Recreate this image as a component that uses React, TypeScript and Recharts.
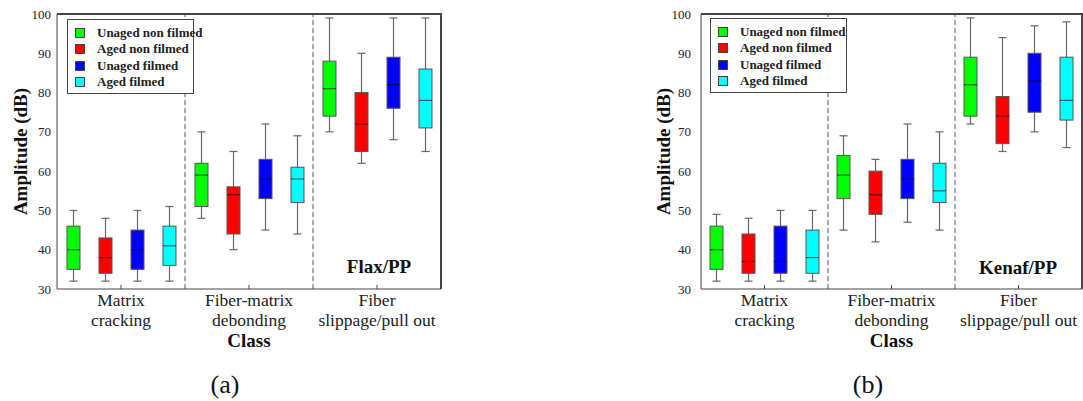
import React from 'react';
import {
    ComposedChart,
    Bar,
    XAxis,
    YAxis,
    ReferenceLine,
    Legend,
} from 'recharts';

// class labels, split the way they are printed under the axis
const CLASS_LINES = [
    ['Matrix', 'cracking'],
    ['Fiber-matrix', 'debonding'],
    ['Fiber', 'slippage/pull out'],
];

const SERIES_NAMES = ['Unaged non filmed', 'Aged non filmed', 'Unaged filmed', 'Aged filmed'];
const SERIES_COLORS = ['#00ff00', '#ff0000', '#0000ff', '#00ffff'];

const Y_MIN = 30;
const Y_MAX = 100;
const Y_TICKS = [30, 40, 50, 60, 70, 80, 90, 100];

// [min, q1, median, q3, max] per class
const flaxUnagedNonFilmed = [[32, 35, 40, 46, 50], [48, 51, 59, 62, 70], [70, 74, 81, 88, 99]];
const flaxAgedNonFilmed = [[32, 34, 38, 43, 48], [40, 44, 54, 56, 65], [62, 65, 72, 80, 90]];
const flaxUnagedFilmed = [[32, 35, 40, 45, 50], [45, 53, 58, 63, 72], [68, 76, 82, 89, 99]];
const flaxAgedFilmed = [[32, 36, 41, 46, 51], [44, 52, 58, 61, 69], [65, 71, 78, 86, 99]];

const kenafUnagedNonFilmed = [[32, 35, 40, 46, 49], [45, 53, 59, 64, 69], [72, 74, 82, 89, 99]];
const kenafAgedNonFilmed = [[32, 34, 37, 44, 48], [42, 49, 54, 60, 63], [65, 67, 74, 79, 94]];
const kenafUnagedFilmed = [[32, 34, 37, 46, 50], [47, 53, 58, 63, 72], [70, 75, 83, 90, 97]];
const kenafAgedFilmed = [[32, 34, 38, 45, 50], [45, 52, 55, 62, 70], [66, 73, 78, 89, 98]];

const SERIF = "'Liberation Serif', 'Times New Roman', serif";
const AXIS = '#444';
const PLOT_TOP = 14;
const PLOT_BOTTOM = 289;
const Y_AXIS_W = 57;

function buildRows(series: number[][][]) {
    return CLASS_LINES.map((lines, i) => {
        const row: any = { name: lines.join(' '), slot: i + 0.5 };
        series.forEach((s, k) => {
            row[`s${k}`] = s[i];
        });
        return row;
    });
}

// whiskers + box + median, placed inside the min..max range the bar gets from the y scale
function BoxShape(props: any) {
    const { x, y, width, height, fill, payload, statKey } = props;
    const [mn, q1, md, q3, mx] = payload[statKey];
    const top = Math.min(y, y + height);
    const bot = Math.max(y, y + height);
    const py = (v: number) => bot - ((bot - top) * (v - mn)) / (mx - mn);
    const cx = x + width / 2;
    return (
        <g>
            <line x1={cx} x2={cx} y1={py(mx)} y2={py(mn)} stroke="#666" strokeWidth={1.2} />
            <line x1={cx - 4} x2={cx + 4} y1={py(mx)} y2={py(mx)} stroke="#666" strokeWidth={1.2} />
            <line x1={cx - 4} x2={cx + 4} y1={py(mn)} y2={py(mn)} stroke="#666" strokeWidth={1.2} />
            <rect x={x} y={py(q3)} width={width} height={py(q1) - py(q3)} fill={fill} stroke="#555" strokeWidth={1} />
            <line x1={x} x2={x + width} y1={py(md)} y2={py(md)} stroke="rgba(0,0,0,0.6)" strokeWidth={1.2} />
        </g>
    );
}

function ClassTick(props: any) {
    const { x, y, payload } = props;
    const lines = CLASS_LINES[payload.index] || [String(payload.value)];
    return (
        <g>
            <line x1={x} x2={x} y1={PLOT_BOTTOM} y2={PLOT_BOTTOM - 4} stroke={AXIS} />
            <text x={x} y={y} textAnchor="middle" fontFamily={SERIF} fontSize={17.5} fill="#222">
                {lines.map((l, i) => (
                    <tspan key={i} x={x} dy={i === 0 ? 17 : 20}>
                        {l}
                    </tspan>
                ))}
            </text>
        </g>
    );
}

const renderLegend = (width: number) => (props: any) => {
    const items = [...(props.payload || [])].sort(
        (a: any, b: any) => SERIES_NAMES.indexOf(a.value) - SERIES_NAMES.indexOf(b.value),
    );
    return (
        <div
            style={{
                width,
                height: 75,
                boxSizing: 'border-box',
                border: `1px solid ${AXIS}`,
                background: '#fff',
                padding: '5px 0 0 7px',
                fontFamily: SERIF,
                fontWeight: 'bold',
                fontSize: 13,
                color: '#222',
                whiteSpace: 'nowrap',
            }}
        >
            {items.map((e: any) => (
                <div key={e.value} style={{ display: 'flex', alignItems: 'center', height: 16.3 }}>
                    <span
                        style={{
                            display: 'inline-block',
                            flexShrink: 0,
                            width: 8,
                            height: 8,
                            background: e.color,
                            border: '1px solid #444',
                            marginRight: 12,
                        }}
                    />
                    <span style={{ flexShrink: 0 }}>{e.value}</span>
                </div>
            ))}
        </div>
    );
};

interface PanelProps {
    series: number[][][];
    left: number;
    width: number;
    marginRight: number;
    yTickMargin: number;
    yLabelOffset: number;
    legendLeft: number;
    legendTop: number;
    legendWidth: number;
}

function Panel({ series, left, width, marginRight, yTickMargin, yLabelOffset, legendLeft, legendTop, legendWidth }: PanelProps) {
    const rows = buildRows(series);
    const plotW = width - marginRight - Y_AXIS_W;
    return (
        <div style={{ position: 'absolute', left, top: 0, width, height: 401 }}>
            <ComposedChart
                width={width}
                height={401}
                data={rows}
                margin={{ top: PLOT_TOP, right: marginRight, left: 0, bottom: 0 }}
                barGap={19}
            >
                <XAxis
                    dataKey="name"
                    height={401 - PLOT_BOTTOM}
                    axisLine={{ stroke: AXIS }}
                    tickLine={false}
                    tickSize={0}
                    tickMargin={0}
                    interval={0}
                    tick={<ClassTick />}
                    label={(p: any) => {
                        const vb = p.viewBox || {};
                        return (
                            <text
                                x={vb.x + vb.width / 2}
                                y={PLOT_BOTTOM + 58}
                                textAnchor="middle"
                                fontFamily={SERIF}
                                fontWeight="bold"
                                fontSize={19}
                                fill="#111"
                            >
                                Class
                            </text>
                        );
                    }}
                />
                {/* continuous axis for the class boundaries */}
                <XAxis
                    xAxisId="div"
                    dataKey="slot"
                    type="number"
                    domain={[0, CLASS_LINES.length]}
                    allowDataOverflow
                    hide
                />
                <YAxis
                    domain={[Y_MIN, Y_MAX]}
                    ticks={Y_TICKS}
                    width={Y_AXIS_W}
                    axisLine={{ stroke: AXIS }}
                    tickLine={false}
                    tickSize={0}
                    tickMargin={yTickMargin}
                    tick={{ fontFamily: SERIF, fontSize: 13, fill: '#222' }}
                    label={(p: any) => {
                        const vb = p.viewBox || {};
                        const cx = (vb.x || 0) + yLabelOffset;
                        const cy = PLOT_TOP + (PLOT_BOTTOM - PLOT_TOP) / 2;
                        return (
                            <text
                                x={cx}
                                y={cy}
                                transform={`rotate(-90 ${cx} ${cy})`}
                                textAnchor="middle"
                                dominantBaseline="central"
                                fontFamily={SERIF}
                                fontWeight="bold"
                                fontSize={19}
                                fill="#111"
                            >
                                Amplitude (dB)
                            </text>
                        );
                    }}
                />
                {CLASS_LINES.slice(1).map((_, i) => (
                    <ReferenceLine key={i} xAxisId="div" x={i + 1} stroke="#555" strokeDasharray="5 3" />
                ))}
                <Legend
                    layout="horizontal"
                    verticalAlign="middle"
                    align="center"
                    content={renderLegend(legendWidth)}
                    wrapperStyle={{ left: legendLeft, top: legendTop, width: legendWidth, height: 75 }}
                />
                {SERIES_NAMES.map((name, k) => (
                    <Bar
                        key={name}
                        name={name}
                        dataKey={(d: any) => [d[`s${k}`][0], d[`s${k}`][4]]}
                        fill={SERIES_COLORS[k]}
                        barSize={13}
                        isAnimationActive={false}
                        shape={(p: any) => <BoxShape {...p} statKey={`s${k}`} />}
                    />
                ))}
            </ComposedChart>
            {/* top and right edges of the plot frame */}
            <div
                style={{
                    position: 'absolute',
                    left: Y_AXIS_W,
                    top: PLOT_TOP - 1,
                    width: plotW + 1,
                    height: 2,
                    background: AXIS,
                    zIndex: 5,
                    pointerEvents: 'none',
                }}
            />
            <div
                style={{
                    position: 'absolute',
                    left: Y_AXIS_W + plotW - 1,
                    top: PLOT_TOP - 1,
                    width: 2,
                    height: PLOT_BOTTOM - PLOT_TOP + 1,
                    background: AXIS,
                    zIndex: 5,
                    pointerEvents: 'none',
                }}
            />
        </div>
    );
}

const tagStyle: React.CSSProperties = {
    position: 'absolute',
    transform: 'translate(-50%, -50%)',
    fontFamily: SERIF,
    whiteSpace: 'nowrap',
    color: '#111',
};

export default function App() {
    return (
        <div style={{ position: 'absolute', left: 0, top: 0, width: 1083, height: 401, overflow: 'hidden', background: '#fff' }}>
            <Panel
                series={[flaxUnagedNonFilmed, flaxAgedNonFilmed, flaxUnagedFilmed, flaxAgedFilmed]}
                left={0}
                width={460}
                marginRight={19}
                yTickMargin={6}
                yLabelOffset={20}
                legendLeft={67}
                legendTop={19}
                legendWidth={127}
            />
            <Panel
                series={[kenafUnagedNonFilmed, kenafAgedNonFilmed, kenafUnagedFilmed, kenafAgedFilmed]}
                left={644}
                width={439}
                marginRight={1}
                yTickMargin={10}
                yLabelOffset={19}
                legendLeft={66}
                legendTop={18}
                legendWidth={137}
            />
            <div style={{ ...tagStyle, left: 379, top: 267, fontSize: 19, fontWeight: 'bold' }}>Flax/PP</div>
            <div style={{ ...tagStyle, left: 1018, top: 268, fontSize: 19, fontWeight: 'bold' }}>Kenaf/PP</div>
            <div style={{ ...tagStyle, left: 225, top: 385, fontSize: 26 }}>(a)</div>
            <div style={{ ...tagStyle, left: 868, top: 385, fontSize: 26 }}>(b)</div>
        </div>
    );
}
